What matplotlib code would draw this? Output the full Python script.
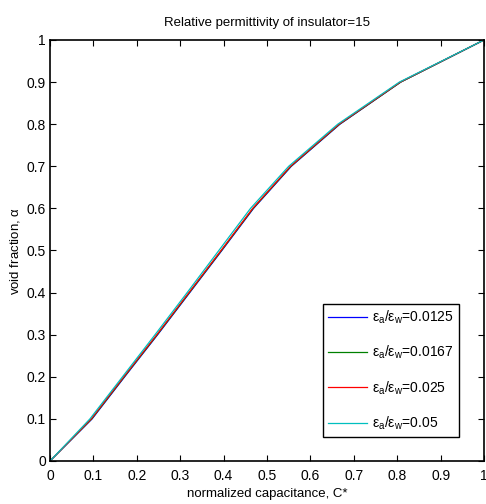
import numpy as np
import matplotlib
matplotlib.use('Agg')
import matplotlib.pyplot as plt

plt.rcParams['font.family'] = ['Liberation Sans', 'DejaVu Sans']
plt.rcParams['mathtext.fontset'] = 'custom'
plt.rcParams['mathtext.rm'] = 'Liberation Sans'
plt.rcParams['mathtext.it'] = 'Liberation Sans:italic'

# void fraction values (y) and normalized capacitance (x) for each ratio
alpha = [0, 0.1, 0.2, 0.3, 0.4, 0.5, 0.6, 0.7, 0.8, 0.9, 1.0]
c_0125 = [0, 0.097, 0.172, 0.248, 0.322, 0.396, 0.469, 0.556, 0.668, 0.808, 1.0]
c_0167 = [0, 0.096, 0.171, 0.247, 0.321, 0.395, 0.468, 0.555, 0.667, 0.808, 1.0]
c_025 = [0, 0.095, 0.170, 0.246, 0.320, 0.394, 0.467, 0.554, 0.666, 0.807, 1.0]
c_05 = [0, 0.092, 0.167, 0.242, 0.316, 0.389, 0.462, 0.550, 0.663, 0.805, 1.0]
labels = [r'$\mathrm{\epsilon_a/\epsilon_w}$=0.0125',
          r'$\mathrm{\epsilon_a/\epsilon_w}$=0.0167',
          r'$\mathrm{\epsilon_a/\epsilon_w}$=0.025',
          r'$\mathrm{\epsilon_a/\epsilon_w}$=0.05']

fig = plt.figure(figsize=(4.86, 5.04), dpi=100)
ax = fig.add_axes([50/486, 43/504, 434/486, 421/504])

colors = ['#0000ff', '#008000', '#ff0000', '#00bfbf']
for xs, col, lab in zip([c_0125, c_0167, c_025, c_05], colors, labels):
    ax.plot(xs, alpha, color=col, linewidth=0.9, label=lab)

ax.set_xlim(0, 1)
ax.set_ylim(0, 1)
ticks = np.arange(0, 1.01, 0.1)
ticklabels = ['0', '0.1', '0.2', '0.3', '0.4', '0.5', '0.6', '0.7', '0.8', '0.9', '1']
ax.set_xticks(ticks)
ax.set_yticks(ticks)
ax.set_xticklabels(ticklabels)
ax.set_yticklabels(ticklabels)
ax.tick_params(direction='in', top=True, right=True, length=4, width=0.8, labelsize=10)
ax.tick_params(axis='x', pad=6)
ax.tick_params(axis='y', pad=3)
for s in ax.spines.values():
    s.set_linewidth(1.2)

ax.set_xlabel('normalized capacitance, C*', fontsize=9.5, labelpad=3)
ax.set_ylabel(r'void fraction, $\mathrm{\alpha}$', fontsize=9.5, labelpad=3)
ax.set_title('Relative permittivity of insulator=15', fontsize=9.5, pad=10)

leg = ax.legend(loc='lower right', bbox_to_anchor=(0.942, 0.057), fontsize=10,
                fancybox=False, edgecolor='black', framealpha=1, handlelength=2.8,
                labelspacing=1.3, borderpad=0.35, handletextpad=0.4, borderaxespad=0)
leg.get_frame().set_linewidth(1.0)

plt.savefig('out.png', dpi=100)
